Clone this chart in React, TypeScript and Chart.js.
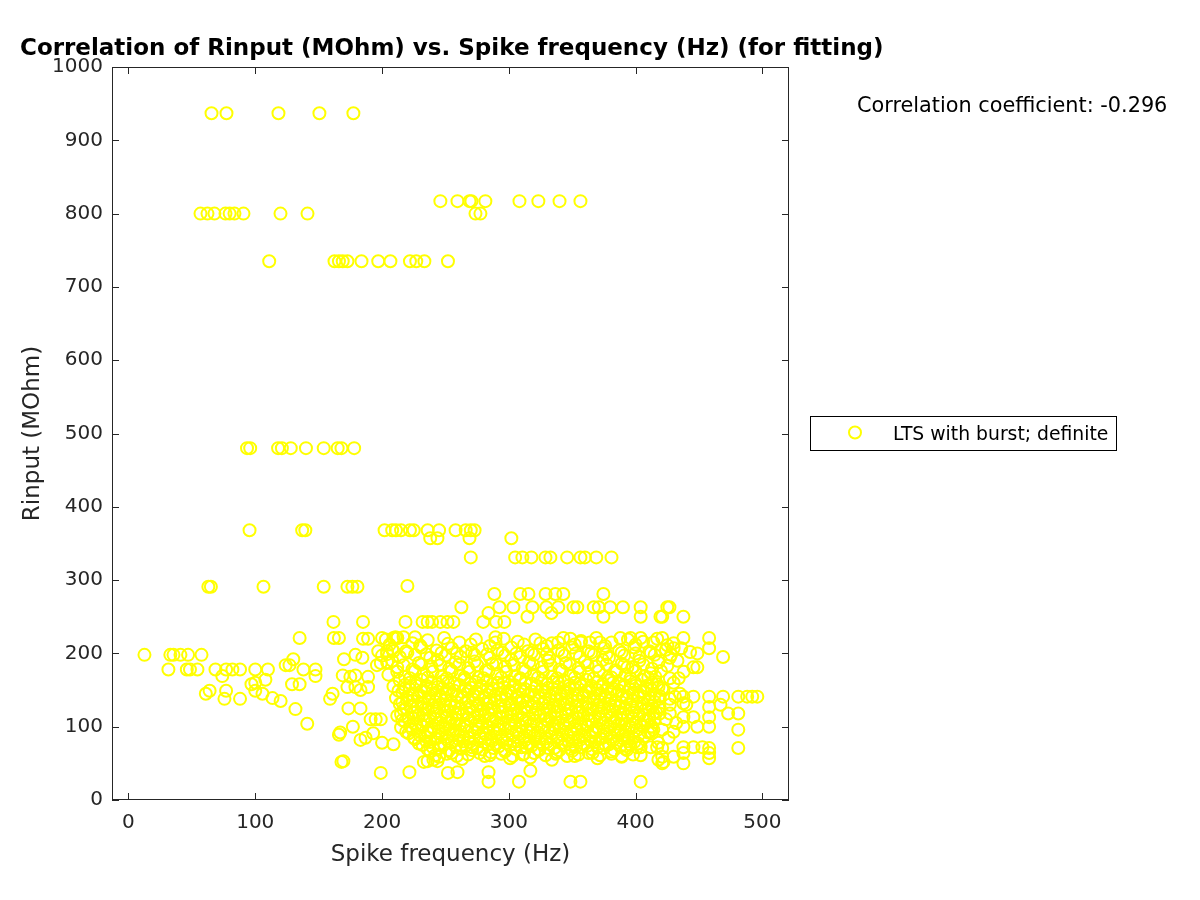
import React, { useEffect, useRef } from "react";
import { Chart, registerables } from "chart.js";

Chart.register(...registerables);

const chartTitle = "Correlation of Rinput (MOhm) vs. Spike frequency (Hz) (for fitting)";
const xAxisLabel = "Spike frequency (Hz)";
const yAxisLabel = "Rinput (MOhm)";
const seriesLabel = "LTS with burst; definite";
const correlationText = "Correlation coefficient: -0.296";
const xTickValues = [0, 100, 200, 300, 400, 500];
const yTickValues = [0, 100, 200, 300, 400, 500, 600, 700, 800, 900, 1000];

type P = [number, number];

const highRows: P[] = [
  [65.5, 937], [77.3, 937], [118.3, 937], [150.6, 937], [177.4, 937],
  [246, 817], [259.5, 817], [269, 817], [270.5, 817], [281.5, 817], [308.4, 817], [323.3, 817], [340, 817], [356.5, 817],
  [56.8, 800], [62.3, 800], [67.8, 800], [76.5, 800], [79.8, 800], [83.6, 800], [90.7, 800], [119.9, 800], [141.2, 800], [273.7, 800], [277.6, 800],
  [111, 735], [162.5, 735], [166, 735], [169, 735], [172.7, 735], [183.8, 735], [197, 735], [206.6, 735], [222, 735], [227, 735], [233.4, 735], [252, 735],
  [93.5, 480], [96, 480], [118, 480], [121, 480], [128, 480], [140, 480], [154, 480], [165, 480], [168, 480], [178, 480],
];

const midRows: P[] = [
  [95.5, 368], [137, 368], [139.5, 368], [202, 368], [208, 368], [211, 368], [215, 368], [222, 368], [225, 368], [236, 368], [245, 368], [258, 368], [266, 368], [270, 368], [273, 368],
  [238, 357], [243.7, 357], [269, 357], [302, 357],
  [270, 331], [305, 331], [310.7, 331], [317.8, 331], [328.9, 331], [332.8, 331], [346, 331], [356.5, 331], [360, 331], [369, 331], [381, 331],
  [63, 291], [65, 291], [106.5, 291], [154, 291], [172.7, 291], [176.6, 291], [180.6, 291], [220, 292],
  [288.6, 281], [309, 281], [315.5, 281], [329, 281], [336.7, 281], [343, 281], [374.6, 281],
  [262.6, 263], [292.6, 263], [303.6, 263], [318.6, 263], [329.6, 263], [339, 263], [351, 263], [354, 263], [367, 263], [371, 263], [380, 263], [390, 263], [404, 263], [425, 263], [426.7, 263],
  [284, 255], [333.6, 255], [314.7, 250], [374.6, 250], [404, 250], [419.6, 250], [421, 250], [437.7, 250],
  [161.7, 243], [185, 243], [218.5, 243], [232, 243], [236, 243], [239.5, 243], [246, 243], [251.6, 243], [256.3, 243], [279.8, 243], [290, 243], [296.5, 243],
];

const leftSparse: P[] = [
  [12.6, 198], [33, 198], [35.5, 198], [41, 198], [47, 198], [57.6, 198],
  [31.5, 178], [46, 178], [48.5, 178], [54.4, 178], [68.6, 178], [77, 178], [82, 178], [88, 178], [100, 178], [110, 178],
  [74, 169], [108, 164], [97, 158], [100, 160], [100, 149], [61, 145], [64, 149], [77, 149], [75.7, 138], [88, 138],
  [105.7, 145], [113.6, 139], [120, 135], [131.7, 124], [141, 104],
  [124, 184], [127, 184], [130, 192], [138, 178], [147.5, 178], [147.5, 169], [129, 158], [135, 158], [159, 138], [161, 145],
  [166, 89], [167, 92], [168, 52], [135, 221], [162, 221], [166, 221], [185, 220], [189, 220],
  [179, 198], [184.5, 194], [170, 192], [169, 170], [175, 168], [179, 170], [172.7, 154], [179, 154], [183, 150],
  [173.5, 125], [183, 125], [189, 168], [189, 154], [191, 110], [195, 110], [199, 110], [177, 100], [183, 82], [187, 85],
  [193, 91], [200, 78], [209, 76], [199, 37], [196, 184], [199, 187], [204, 188], [197, 203], [204, 203], [209, 203],
  [200, 221], [209, 221], [212, 221],
];

const upperCore: P[] = [
  [210.6, 222], [217, 222], [226, 222], [289.5, 222], [289.5, 215], [325, 214], [339, 215], [348.6, 220], [356.5, 215],
  [364, 215], [372, 215], [388, 221], [396, 221], [404, 221], [414, 215], [421, 221], [437.7, 221], [458, 221],
  [203, 219], [212, 221], [224, 214], [236, 218], [249, 221], [261, 215], [274, 219], [296, 220], [307, 216], [321, 219],
  [334, 214], [343, 221], [357, 217], [369, 221], [381, 215], [394, 219], [406, 216], [417, 220], [430, 214],
  [206, 212], [230, 211], [252, 213], [270, 212], [285, 210], [312, 212], [330, 210], [352, 212], [376, 210], [400, 212], [425, 211],
  [208, 206], [219, 203], [231, 208], [243, 204], [255, 207], [266, 203], [279, 206], [291, 204], [302, 208], [315, 203],
  [327, 206], [339, 204], [350, 208], [363, 203], [375, 207], [387, 204], [399, 208], [411, 203], [424, 205], [436, 207],
  [204, 199], [220, 201], [235, 199], [247, 201], [259, 200], [271, 201], [283, 199], [295, 201], [306, 200], [318, 201],
  [330, 199], [342, 201], [353, 200], [365, 201], [377, 199], [389, 201], [400, 200], [412, 201],
  [200, 197], [214, 195], [226, 198], [238, 194], [250, 197], [262, 195], [273, 198], [285, 194], [297, 197], [309, 195],
  [320, 198], [332, 194], [344, 197], [356, 195], [367, 198], [379, 194], [391, 197], [403, 195], [415, 198], [427, 194],
  [208, 190], [229, 187], [244, 191], [258, 188], [273, 189], [287, 186], [302, 191], [316, 188], [331, 190], [345, 187],
  [360, 189], [374, 191], [389, 186], [403, 190], [418, 188],
  [217, 184], [231, 185], [246, 184], [261, 185], [275, 184], [290, 185], [304, 184], [319, 185], [333, 184], [348, 185],
  [362, 184], [377, 185], [391, 184], [406, 185],
  [212, 181], [224, 178], [239, 182], [253, 179], [268, 180], [282, 177], [297, 182], [311, 179], [326, 181], [340, 178],
  [355, 180], [369, 182], [384, 177], [398, 181], [413, 179],
  [212, 175], [226, 176], [240, 175], [255, 176], [269, 175], [284, 176], [298, 175], [313, 176], [327, 175], [342, 176],
  [356, 175], [371, 176], [385, 175], [400, 176], [420, 176],
  [205, 171], [218, 168], [233, 172], [247, 169], [262, 170], [276, 167], [291, 172], [305, 169], [320, 171], [334, 168],
  [349, 170], [363, 172], [378, 167], [392, 171], [407, 169],
  [222, 166], [236, 167], [251, 166], [265, 167], [280, 166], [294, 167], [309, 166], [323, 167], [338, 166], [352, 167],
  [367, 166], [381, 167], [396, 166], [410, 167],
  [393.5, 181], [397.5, 181], [412, 173], [415.6, 168], [427, 166], [434, 166], [445.6, 181], [448.7, 181],
  [430, 207], [443, 202], [448.7, 200], [458, 207], [469, 195], [428, 198], [433, 190], [425, 183], [438, 175],
];

const denseCore: P[] = [
  [214, 163], [222, 160], [231, 164], [239, 161], [248, 162], [257, 159], [265, 164], [274, 161], [283, 163], [291, 160], [300, 162], [309, 164],
  [318, 159], [326, 163], [335, 161], [344, 162], [352, 160], [361, 164], [370, 161], [379, 163], [387, 159], [396, 162], [405, 164], [413, 160],
  [218, 157], [227, 159], [235, 156], [244, 158], [252, 160], [261, 157], [270, 159], [278, 156], [287, 158], [296, 160], [304, 157], [313, 159],
  [322, 156], [330, 158], [339, 160], [348, 157], [356, 159], [365, 156], [374, 158], [382, 160], [391, 157], [400, 159], [409, 156], [417, 158],
  [209, 155], [218, 152], [227, 156], [235, 153], [244, 154], [253, 151], [261, 156], [270, 153], [279, 155], [287, 152], [296, 154], [305, 156], [313, 151],
  [322, 155], [331, 153], [339, 154], [348, 152], [357, 156], [365, 153], [374, 155], [383, 151], [391, 154], [400, 156], [409, 152], [418, 154],
  [213, 149], [222, 151], [231, 148], [240, 150], [248, 152], [257, 149], [266, 151], [274, 148], [283, 150], [292, 152], [300, 149], [309, 151],
  [318, 148], [326, 150], [335, 152], [344, 149], [352, 151], [361, 148], [370, 150], [378, 152], [387, 149], [396, 151], [404, 148], [413, 150], [421, 152],
  [216, 147], [224, 144], [233, 148], [242, 145], [250, 146], [259, 143], [268, 148], [276, 145], [285, 147], [294, 144], [302, 146], [311, 148],
  [320, 143], [328, 147], [337, 145], [346, 146], [354, 144], [363, 148], [372, 145], [380, 147], [389, 143], [398, 146], [406, 148], [415, 144],
  [220, 141], [229, 143], [237, 140], [246, 142], [255, 144], [263, 141], [272, 143], [281, 140], [289, 142], [298, 144], [307, 141], [315, 143],
  [324, 140], [333, 142], [341, 144], [350, 141], [359, 143], [367, 140], [376, 142], [385, 144], [393, 141], [402, 143], [411, 140], [419, 142],
  [211, 139], [220, 136], [228, 140], [237, 137], [246, 138], [254, 135], [263, 140], [272, 137], [280, 139], [289, 136], [298, 138], [306, 140], [315, 135],
  [324, 139], [332, 137], [341, 138], [350, 136], [358, 140], [367, 137], [376, 139], [384, 135], [393, 138], [402, 140], [410, 136], [419, 138],
  [216, 133], [224, 135], [233, 132], [242, 134], [250, 136], [259, 133], [268, 135], [276, 132], [285, 134], [294, 136], [302, 133], [311, 135],
  [320, 132], [328, 134], [337, 136], [346, 133], [354, 135], [363, 132], [372, 134], [380, 136], [389, 133], [398, 135], [406, 132], [415, 134],
  [214, 131], [223, 128], [231, 132], [240, 129], [249, 130], [257, 127], [266, 132], [275, 129], [283, 131], [292, 128], [301, 130], [309, 132],
  [318, 127], [327, 131], [335, 129], [344, 130], [353, 128], [361, 132], [370, 129], [379, 131], [387, 127], [396, 130], [405, 132], [413, 128],
  [219, 125], [228, 127], [236, 124], [245, 126], [254, 128], [262, 125], [271, 127], [280, 124], [288, 126], [297, 128], [306, 125], [314, 127],
  [323, 124], [332, 126], [340, 128], [349, 125], [358, 127], [366, 124], [375, 126], [384, 128], [392, 125], [401, 127], [410, 124], [418, 126],
  [217, 123], [226, 120], [234, 124], [243, 121], [252, 122], [260, 119], [269, 124], [278, 121], [286, 123], [295, 120], [304, 122], [312, 124],
  [321, 119], [330, 123], [338, 121], [347, 122], [356, 120], [364, 124], [373, 121], [382, 123], [390, 119], [399, 122], [408, 124], [416, 120],
  [215, 117], [224, 119], [232, 116], [241, 118], [250, 120], [258, 117], [267, 119], [276, 116], [284, 118], [293, 120], [302, 117], [310, 119],
  [319, 116], [328, 118], [336, 120], [345, 117], [354, 119], [362, 116], [371, 118], [380, 120], [388, 117], [397, 119], [406, 116], [414, 118],
  [212, 115], [221, 112], [229, 116], [238, 113], [247, 114], [255, 111], [264, 116], [273, 113], [281, 115], [290, 112], [299, 114], [307, 116],
  [316, 111], [325, 115], [333, 113], [342, 114], [351, 112], [359, 116], [368, 113], [377, 115], [385, 111], [394, 114], [403, 116], [411, 112],
  [216, 109], [225, 111], [233, 108], [242, 110], [251, 112], [259, 109], [268, 111], [277, 108], [285, 110], [294, 112], [303, 109], [311, 111],
  [320, 108], [329, 110], [337, 112], [346, 109], [355, 111], [363, 108], [372, 110], [381, 112], [389, 109], [398, 111], [407, 108], [415, 110],
  [218, 107], [227, 104], [235, 108], [244, 105], [253, 106], [261, 103], [270, 108], [279, 105], [287, 107], [296, 104], [305, 106], [313, 108],
  [322, 103], [331, 107], [339, 105], [348, 106], [357, 104], [365, 108], [374, 105], [383, 107], [391, 103], [400, 106], [409, 108],
  [222, 101], [231, 103], [239, 100], [248, 102], [257, 104], [265, 101], [274, 103], [283, 100], [291, 102], [300, 104], [309, 101], [317, 103],
  [326, 100], [335, 102], [343, 104], [352, 101], [361, 103], [369, 100], [378, 102], [387, 104], [395, 101], [404, 103], [412, 100],
  [215, 99], [224, 96], [232, 100], [241, 97], [250, 98], [258, 95], [267, 100], [276, 97], [284, 99], [293, 96], [302, 98], [310, 100],
  [319, 95], [328, 99], [336, 97], [345, 98], [354, 96], [362, 100], [371, 97], [380, 99], [388, 95], [397, 98], [406, 100], [414, 96],
  [219, 93], [228, 95], [236, 92], [245, 94], [254, 96], [262, 93], [271, 95], [280, 92], [288, 94], [297, 96], [306, 93], [314, 95],
  [323, 92], [332, 94], [340, 96], [349, 93], [358, 95], [366, 92], [375, 94], [384, 96], [392, 93], [401, 95], [410, 92],
  [221, 91], [230, 88], [238, 92], [247, 89], [256, 90], [264, 87], [273, 92], [282, 89], [290, 91], [299, 88], [308, 90], [316, 92],
  [325, 87], [334, 91], [342, 89], [351, 90], [360, 88], [368, 92], [377, 89], [386, 91], [394, 87], [403, 90],
  [225, 85], [234, 87], [242, 84], [251, 86], [260, 88], [268, 85], [277, 87], [286, 84], [294, 86], [303, 88], [312, 85], [320, 87],
  [329, 84], [338, 86], [346, 88], [355, 85], [364, 87], [372, 84], [381, 86], [390, 88], [398, 85], [407, 87],
  [226, 83], [235, 80], [243, 84], [252, 81], [261, 82], [269, 79], [278, 84], [287, 81], [295, 83], [304, 80], [313, 82],
  [321, 84], [330, 79], [339, 83], [347, 81], [356, 82], [365, 80], [373, 84], [382, 81], [391, 83], [399, 79],
  [229, 77], [238, 79], [246, 76], [255, 78], [264, 80], [272, 77], [281, 79], [290, 76], [298, 78], [307, 80], [316, 77],
  [324, 79], [333, 76], [342, 78], [350, 80], [359, 77], [368, 79], [376, 76], [385, 78], [394, 80], [402, 77],
  [232, 75], [240, 72], [249, 76], [258, 73], [266, 74], [275, 71], [284, 76], [292, 73], [301, 75], [310, 72],
  [318, 74], [327, 76], [336, 71], [344, 75], [353, 73], [362, 74], [370, 72], [379, 76], [388, 73], [396, 75],
  [236, 69], [245, 71], [253, 68], [262, 70], [271, 72], [279, 69], [288, 71], [297, 68], [305, 70], [314, 72],
  [323, 69], [331, 71], [340, 68], [349, 70], [357, 72], [366, 69], [375, 71], [383, 68], [392, 70], [401, 72],
  [238, 67], [255, 64], [271, 68], [286, 65], [297, 66], [312, 63], [324, 68], [338, 65], [350, 67], [366, 64], [381, 66], [393, 68],
  [242, 61], [251, 63], [259, 60], [268, 62], [277, 64], [285, 61], [294, 63], [303, 60], [311, 62], [320, 64],
  [329, 61], [337, 63], [346, 60], [355, 62], [363, 64], [372, 61], [381, 63], [389, 60], [398, 62],
  [245, 59], [263, 56], [281, 60], [301, 57], [317, 58], [334, 55], [352, 60], [370, 57], [389, 59],
  [420, 205], [430, 160], [422, 150], [435, 145], [427, 138], [440, 130], [424, 110], [432, 105], [426, 85], [418, 78], [412, 72],
];

const rightTail: P[] = [
  [431, 141], [437.7, 141], [445.6, 141], [458, 141], [469, 141], [481, 141], [488, 141], [492, 141], [496, 141],
  [467, 130], [473, 118], [481, 118], [481, 96], [481, 71],
  [458, 71], [458, 64], [458, 57], [445.6, 72], [452.7, 72], [437.7, 72], [437.7, 64], [437.7, 50], [421, 71], [421, 59], [421, 50], [430, 59],
  [458, 100], [458, 113], [458, 127], [448.7, 100], [437.7, 100], [430, 93], [421, 96], [411.7, 93],
  [445.6, 113], [437.7, 113], [427, 118], [419, 118], [437.7, 132], [427, 130], [419, 127],
  [404, 72], [404, 61], [417, 72], [418, 55], [422, 52], [413, 91], [413, 100],
];

const bottomOutliers: P[] = [
  [169.5, 53], [221.6, 38], [236, 53], [243.7, 53], [233, 52], [240.5, 55], [252, 37], [259.5, 38], [284, 38], [284, 25],
  [308, 25], [348.6, 25], [356.5, 25], [404, 25], [317, 40],
];

const allPoints: P[] = [
  ...highRows, ...midRows, ...leftSparse, ...upperCore, ...denseCore, ...rightTail, ...bottomOutliers,
];

const MARKER = "#ffff00";
const INK = "#262626";
const FONT = "'DejaVu Sans', sans-serif";

export default function App() {
  const ref = useRef<HTMLCanvasElement | null>(null);

  useEffect(() => {
    if (!ref.current) return;

    const decor = {
      id: "decor",
      afterDraw(chart: any) {
        const ctx = chart.ctx as CanvasRenderingContext2D;
        const a = chart.chartArea;
        const xs = chart.scales.x;
        const ys = chart.scales.y;
        ctx.save();
        ctx.strokeStyle = INK;
        ctx.lineWidth = 1;
        ctx.strokeRect(a.left + 0.5, a.top + 0.5, a.right - a.left - 1, a.bottom - a.top - 1);
        ctx.beginPath();
        for (const v of xTickValues) {
          const px = Math.round(xs.getPixelForValue(v)) + 0.5;
          ctx.moveTo(px, a.bottom);
          ctx.lineTo(px, a.bottom - 7);
          ctx.moveTo(px, a.top);
          ctx.lineTo(px, a.top + 7);
        }
        for (const v of yTickValues) {
          const py = Math.round(ys.getPixelForValue(v)) + 0.5;
          ctx.moveTo(a.left, py);
          ctx.lineTo(a.left + 7, py);
          ctx.moveTo(a.right, py);
          ctx.lineTo(a.right - 7, py);
        }
        ctx.stroke();

        // title
        ctx.fillStyle = "#000";
        ctx.textAlign = "left";
        ctx.textBaseline = "alphabetic";
        ctx.font = `bold 23px ${FONT}`;
        ctx.fillText(chartTitle, 20, 55);

        // axis labels
        ctx.fillStyle = INK;
        ctx.font = `23px ${FONT}`;
        ctx.textAlign = "center";
        ctx.fillText(xAxisLabel, (a.left + a.right) / 2, 861);
        ctx.save();
        ctx.translate(39, (a.top + a.bottom) / 2);
        ctx.rotate(-Math.PI / 2);
        ctx.fillText(yAxisLabel, 0, 0);
        ctx.restore();

        // correlation text
        ctx.fillStyle = "#000";
        ctx.textAlign = "left";
        ctx.font = `20.8px ${FONT}`;
        ctx.fillText(correlationText, 857, 112);

        // legend
        ctx.fillStyle = "#fff";
        ctx.fillRect(810, 416, 306, 34);
        ctx.strokeStyle = "#000";
        ctx.lineWidth = 1;
        ctx.strokeRect(810.5, 416.5, 306, 34);
        ctx.strokeStyle = MARKER;
        ctx.lineWidth = 2;
        ctx.beginPath();
        ctx.arc(855, 432.5, 6, 0, Math.PI * 2);
        ctx.stroke();
        ctx.fillStyle = "#000";
        ctx.font = `18.8px ${FONT}`;
        ctx.fillText(seriesLabel, 893, 440);
        ctx.restore();
      },
    };

    const tickFont = { family: FONT, size: 20 };
    const plain = (v: any) => String(v);

    const chart = new Chart(ref.current, {
      type: "scatter",
      data: {
        datasets: [
          {
            label: seriesLabel,
            data: allPoints.map(([x, y]) => ({ x, y })),
            showLine: false,
            pointStyle: "circle",
            pointRadius: 6,
            pointHoverRadius: 6,
            pointBorderWidth: 2,
            borderColor: MARKER,
            backgroundColor: "rgba(0,0,0,0)",
          },
        ],
      },
      options: {
        responsive: false,
        animation: false,
        events: [],
        layout: { padding: { left: 0, top: 67, right: 411, bottom: 0 } },
        plugins: {
          legend: { display: false },
          title: { display: false },
          tooltip: { enabled: false },
        },
        scales: {
          x: {
            type: "linear",
            min: -13,
            max: 521,
            afterBuildTicks: (s: any) => {
              s.ticks = xTickValues.map((v) => ({ value: v }));
            },
            afterFit: (s: any) => {
              s.height = 100;
            },
            grid: { display: false, drawTicks: false },
            border: { display: false },
            ticks: { font: tickFont, color: INK, padding: 11, maxRotation: 0, autoSkip: false, callback: plain },
          },
          y: {
            type: "linear",
            min: 0,
            max: 1000,
            afterBuildTicks: (s: any) => {
              s.ticks = yTickValues.map((v) => ({ value: v }));
            },
            afterFit: (s: any) => {
              s.width = 112;
            },
            grid: { display: false, drawTicks: false },
            border: { display: false },
            ticks: { font: tickFont, color: INK, padding: 9, autoSkip: false, callback: plain },
          },
        },
      },
      plugins: [decor],
    });

    return () => chart.destroy();
  }, []);

  return (
    <div style={{ position: "absolute", left: 0, top: 0, width: 1200, height: 900, background: "#fff" }}>
      <canvas ref={ref} width={1200} height={900} style={{ width: 1200, height: 900, display: "block" }} />
    </div>
  );
}
